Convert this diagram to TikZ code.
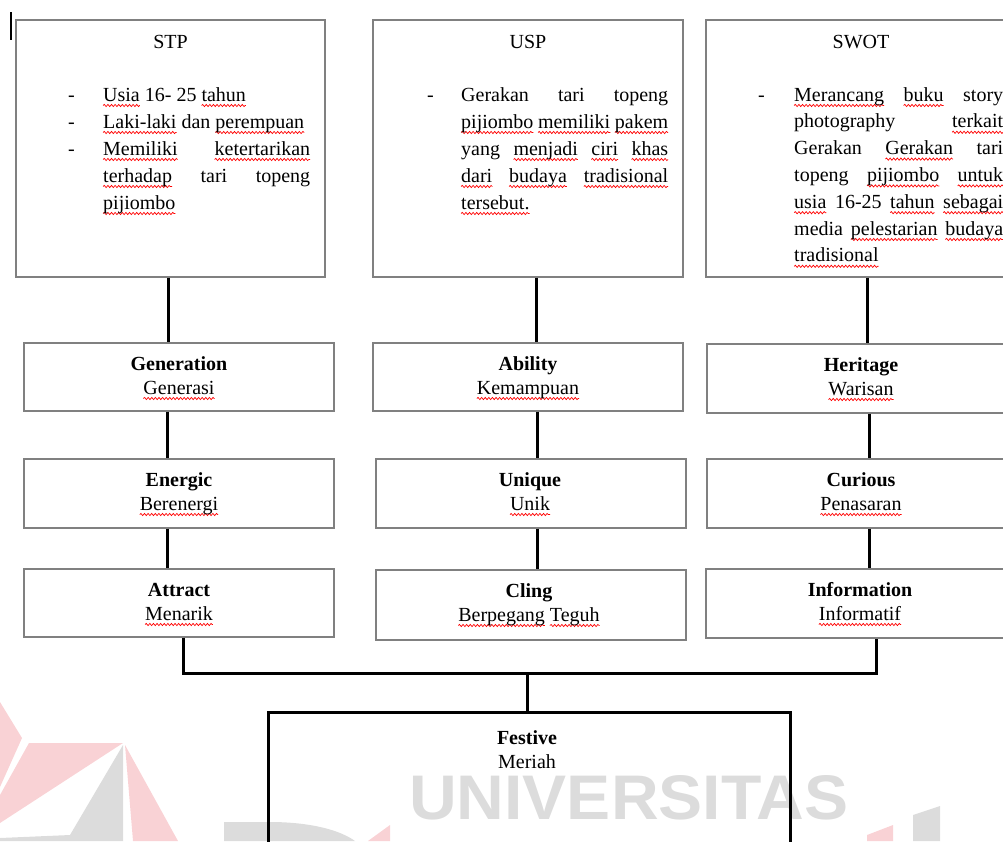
\documentclass[tikz,border=0pt]{standalone}
\usepackage{fontspec}
\setmainfont{Liberation Serif}
\setsansfont{Liberation Sans}
\usepackage{graphicx}
\usetikzlibrary{decorations.pathmorphing}
\definecolor{wmgrey}{HTML}{DCDCDC}
\definecolor{wmpink}{HTML}{F9D2D5}
\definecolor{boxgrey}{HTML}{808080}
\newlength\splw
\newsavebox\splbox
\newcommand\spl[1]{\sbox\splbox{#1}\setlength\splw{\wd\splbox}%
  \tikz[overlay]\draw[red, line width=0.7pt, decorate,
    decoration={snake, amplitude=1.1pt, segment length=3.6pt}]
    (0pt,-4.5pt) -- (\splw,-4.5pt);%
  \usebox\splbox}
\newcommand\jl[2]{\makebox[#1][s]{#2}}
\begin{document}
\begin{tikzpicture}[x=1pt,y=-1pt,
  box/.style={draw=boxgrey, line width=1.3pt, inner sep=0pt},
  fbox/.style={draw=black, line width=3pt, inner sep=0pt},
  conn/.style={draw=black, line width=3pt},
  tx/.style={anchor=base west, inner sep=0pt, font=\fontsize{20}{24}\selectfont},
  ct/.style={anchor=base, inner sep=0pt, font=\fontsize{20}{24}\selectfont},
  cb/.style={anchor=base, inner sep=0pt, font=\fontsize{20}{24}\selectfont\bfseries}]
\useasboundingbox (0,0) rectangle (1003,841);
\clip (0,0) rectangle (1003,841);

% watermark
\fill[wmpink] (0,702) -- (22,738) -- (0,787) -- cycle;
\fill[wmpink] (29,743) -- (123,743) -- (0,823) -- (0,795) -- cycle;
\fill[wmgrey] (123,745) -- (123,841) -- (0,841) -- (0,838) -- (70,835) -- cycle;
\fill[wmpink] (125,745) -- (178,841) -- (133,841) -- cycle;
\fill[wmgrey] (224,841) -- (224,822) -- (270,822) .. controls (310,822) and (340,830) .. (355,841) -- cycle;
\fill[wmpink] (368,841) -- (390,825) -- (390,841) -- cycle;
\fill[wmpink] (867,835) -- (893,825) -- (893,841) -- (867,841) -- cycle;
\fill[wmgrey] (913,815) -- (940,806) -- (940,841) -- (913,841) -- cycle;
\node[anchor=base west, inner sep=0pt, text=wmgrey] (wm) at (409,819)
  {\resizebox{439pt}{44pt}{\sffamily\bfseries UNIVERSITAS}};

% cursor mark
\draw[line width=1.5pt] (11,12) -- (11,40);

% top boxes
\node[box, minimum width=309pt, minimum height=257pt] (stp) at (170.5,148.5) {};
\node[box, minimum width=310pt, minimum height=257pt] (usp) at (528,148.5) {};
\node[box, minimum width=309pt, minimum height=257pt] (swot) at (860.5,148.5) {};

\node[ct] (stpt) at (170.5,48) {STP};
\node[ct] (uspt) at (528,48) {USP};
\node[ct] (swott) at (861,48) {SWOT};

% STP text
\node[tx] (sd1) at (68,101) {-};
\node[tx] (sd2) at (68,128) {-};
\node[tx] (sd3) at (68,155) {-};
\node[tx] (s1) at (103,101) {\spl{Usia} 16- 25 \spl{tahun}};
\node[tx] (s2) at (103,128) {\spl{Laki-laki} dan \spl{perempuan}};
\node[tx] (s3) at (103,155) {\jl{207pt}{\spl{Memiliki} \spl{ketertarikan}}};
\node[tx] (s4) at (103,182) {\jl{207pt}{\spl{terhadap} tari topeng}};
\node[tx] (s5) at (103,209) {\spl{pijiombo}};

% USP text
\node[tx] (ud1) at (427,101) {-};
\node[tx] (u1) at (461,101) {\jl{207pt}{Gerakan tari topeng}};
\node[tx] (u2) at (461,128) {\jl{207pt}{\spl{pijiombo} \spl{memiliki} \spl{pakem}}};
\node[tx] (u3) at (461,155) {\jl{207pt}{yang \spl{menjadi} \spl{ciri} \spl{khas}}};
\node[tx] (u4) at (461,182) {\jl{207pt}{\spl{dari} \spl{budaya} \spl{tradisional}}};
\node[tx] (u5) at (461,209) {\spl{tersebut.}};

% SWOT text
\node[tx] (wd1) at (758,101) {-};
\node[tx] (w1) at (794,101) {\jl{209pt}{\spl{Merancang} \spl{buku} story}};
\node[tx] (w2) at (794,127.8) {\jl{209pt}{photography \spl{terkait}}};
\node[tx] (w3) at (794,154.6) {\jl{209pt}{Gerakan \spl{Gerakan} tari}};
\node[tx] (w4) at (794,181.4) {\jl{209pt}{topeng \spl{pijiombo} \spl{untuk}}};
\node[tx] (w5) at (794,208.2) {\jl{209pt}{\spl{usia} 16-25 \spl{tahun} \spl{sebagai}}};
\node[tx] (w6) at (794,235) {\jl{209pt}{media \spl{pelestarian} \spl{budaya}}};
\node[tx] (w7) at (794,261.8) {\spl{tradisional}};

% middle boxes
\node[box, minimum width=310pt, minimum height=68pt] (gen) at (179,377) {};
\node[box, minimum width=310pt, minimum height=69pt] (ene) at (179,493.5) {};
\node[box, minimum width=310pt, minimum height=68pt] (att) at (179,603) {};
\node[box, minimum width=310pt, minimum height=68pt] (abi) at (528,377) {};
\node[box, minimum width=310pt, minimum height=69pt] (uni) at (531,493.5) {};
\node[box, minimum width=310pt, minimum height=70pt] (cli) at (531,605) {};
\node[box, minimum width=310pt, minimum height=69pt] (her) at (862,378.5) {};
\node[box, minimum width=310pt, minimum height=69pt] (cur) at (862,493.5) {};
\node[box, minimum width=310pt, minimum height=69pt] (inf) at (861,603.5) {};

\node[cb] (genb) at (179,370) {Generation};
\node[ct] (genn) at (179,394) {\spl{Generasi}};
\node[cb] (eneb) at (179,486) {Energic};
\node[ct] (enen) at (179,510) {\spl{Berenergi}};
\node[cb] (attb) at (179,596) {Attract};
\node[ct] (attn) at (179,620) {\spl{Menarik}};

\node[cb] (abib) at (528,370) {Ability};
\node[ct] (abin) at (528,394) {\spl{Kemampuan}};
\node[cb] (unib) at (530,486) {Unique};
\node[ct] (unin) at (530,510) {\spl{Unik}};
\node[cb] (clib) at (529,597) {Cling};
\node[ct] (clin) at (529,621) {\spl{Berpegang} \spl{Teguh}};

\node[cb] (herb) at (861,371) {Heritage};
\node[ct] (hern) at (861,395) {\spl{Warisan}};
\node[cb] (curb) at (861,486) {Curious};
\node[ct] (curn) at (861,510) {\spl{Penasaran}};
\node[cb] (infb) at (860,596) {Information};
\node[ct] (infn) at (860,620) {\spl{Informatif}};

% festive box
\node[fbox, minimum width=522pt, minimum height=148pt] (fes) at (529,786) {};
\node[cb] (fesb) at (527,744) {Festive};
\node[ct] (fesn) at (527,768) {Meriah};

% connectors
\draw[conn] (168,0 |- stp.south) -- (168,0 |- gen.north);
\draw[conn] (167,0 |- gen.south) -- (167,0 |- ene.north);
\draw[conn] (167,0 |- ene.south) -- (167,0 |- att.north);
\draw[conn] (536,0 |- usp.south) -- (536,0 |- abi.north);
\draw[conn] (537,0 |- abi.south) -- (537,0 |- uni.north);
\draw[conn] (537,0 |- uni.south) -- (537,0 |- cli.north);
\draw[conn] (867,0 |- swot.south) -- (867,0 |- her.north);
\draw[conn] (869,0 |- her.south) -- (869,0 |- cur.north);
\draw[conn] (869,0 |- cur.south) -- (869,0 |- inf.north);

\coordinate (jl) at (183,673);
\coordinate (jr) at (876,673);
\coordinate (jm) at (527,673);
\draw[conn] (183,0 |- att.south) -- (jl) -- (jr) -- (876,0 |- inf.south);
\draw[conn] (jm) -- (jm |- fes.north);
\end{tikzpicture}
\end{document}
